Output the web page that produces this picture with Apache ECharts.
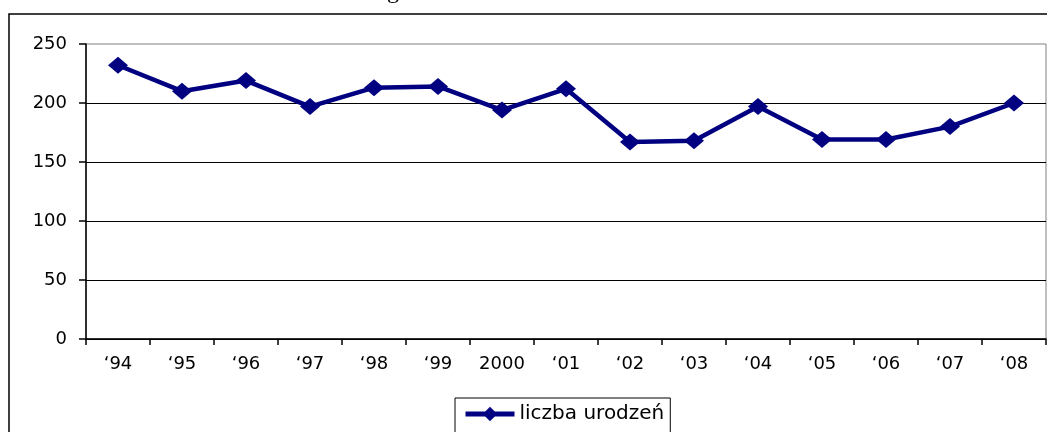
<!DOCTYPE html>
<html>
<head>
<meta charset="utf-8">
<script src="https://cdn.jsdelivr.net/npm/echarts@6/dist/echarts.min.js"></script>
<style>
  html, body { margin: 0; padding: 0; background: #fff; }
  #main { width: 1047px; height: 432px; }
</style>
</head>
<body>
<div id="main"></div>
<script>
// dane
var years = ['\u201894', '\u201895', '\u201896', '\u201897', '\u201898', '\u201899', '2000', '\u201801',
  '\u201802', '\u201803', '\u201804', '\u201805', '\u201806', '\u201807', '\u201808'];
var births = [232, 210, 219, 197, 213, 214, 194, 212, 167, 168, 197, 169, 169, 180, 200];
var seriesName = 'liczba urodzeń';

var chart = echarts.init(document.getElementById('main'), null, { renderer: 'canvas' });
var font = '"DejaVu Sans", "Liberation Sans", Arial, sans-serif';

var option = {
  animation: false,
  backgroundColor: '#fff',
  graphic: [
    // ramka wykresu
    {
      type: 'rect',
      shape: { x: 9, y: 14, width: 1060, height: 440 },
      style: { fill: null, stroke: '#000', lineWidth: 1.5 },
      silent: true
    },
    // ucięty tytuł (widoczny tylko fragment litery)
    {
      type: 'text',
      style: {
        text: 'g', x: 387, y: -8,
        font: '24px "Liberation Serif", "Times New Roman", serif',
        fill: '#000', verticalAlign: 'middle'
      },
      silent: true
    }
  ],
  grid: {
    left: 86, right: 1, top: 44, bottom: 93,
    show: true, borderColor: '#808080', borderWidth: 1
  },
  legend: {
    data: [seriesName],
    left: 455, top: 398,
    borderColor: '#000', borderWidth: 1,
    padding: [6, 6, 10, 8],
    itemWidth: 49, itemHeight: 18,
    lineStyle: { width: 5, color: '#000080' },
    itemStyle: { color: '#000080' },
    textStyle: { fontFamily: font, fontSize: 20, color: '#000' }
  },
  xAxis: {
    type: 'category',
    data: years,
    boundaryGap: true,
    axisLine: { lineStyle: { color: '#000', width: 1.5 } },
    axisTick: { show: true, length: 6, lineStyle: { color: '#000', width: 1.5 } },
    axisLabel: { color: '#000', fontFamily: font, fontSize: 18, margin: 16 }
  },
  yAxis: {
    type: 'value',
    min: 0, max: 250, interval: 50,
    axisLine: { show: true, lineStyle: { color: '#000', width: 1.5 } },
    axisTick: { show: true, length: 7, lineStyle: { color: '#000', width: 1.5 } },
    axisLabel: { color: '#000', fontFamily: font, fontSize: 18, margin: 19 },
    splitLine: { show: true, showMaxLine: false, lineStyle: { color: '#000', width: 1 } }
  },
  series: [{
    name: seriesName,
    type: 'line',
    data: births,
    symbol: 'diamond',
    symbolSize: [20, 17],
    lineStyle: { color: '#000080', width: 4.5 },
    itemStyle: { color: '#000080' }
  }]
};

chart.setOption(option);
</script>
</body>
</html>
